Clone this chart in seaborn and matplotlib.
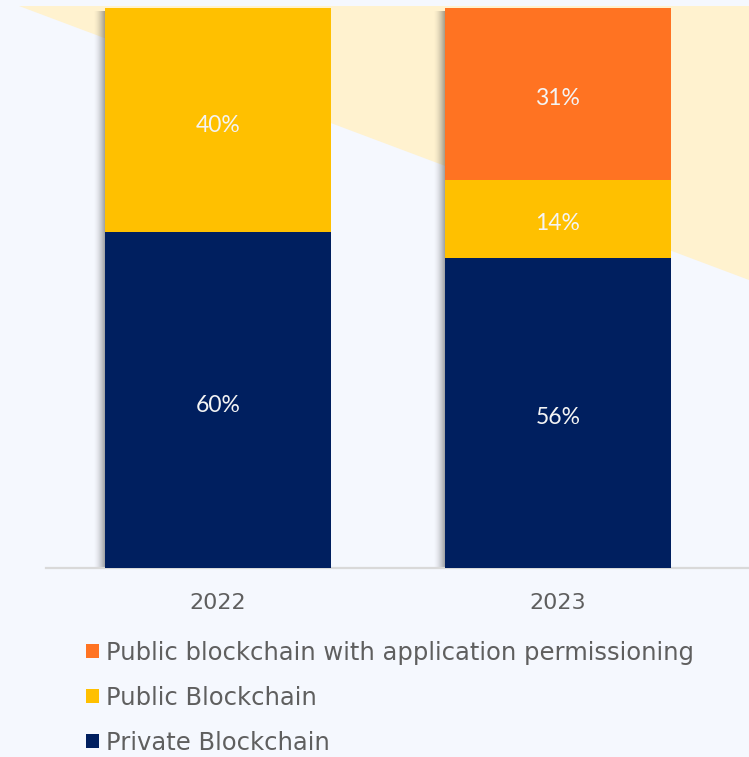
import numpy as np
import pandas as pd
import matplotlib
matplotlib.use("Agg")
import matplotlib.pyplot as plt
import seaborn as sns
from matplotlib.patches import Polygon, Patch, Rectangle
from matplotlib.transforms import offset_copy

# Survey shares by year (percent)
years = ["2022", "2023"]
private_chain = [60, 56]
public_chain = [40, 14]
public_permissioned = [0, 31]
series_labels = [
    "Public blockchain with application permissioning",
    "Public Blockchain",
    "Private Blockchain",
]

C_PRIVATE = "#001F5F"
C_PUBLIC = "#FFC000"
C_PERM = "#FF7322"
BG = "#F5F8FE"
BAND = "#FFF2CF"
TEXT_GRAY = "#5F5F5F"

sns.set_theme(style="white")
plt.rcParams["font.family"] = ["DejaVu Sans"]

W, H = 749, 757
fig = plt.figure(figsize=(W / 100, H / 100), dpi=100, facecolor=BG)

# pale diagonal band behind the plot
band = Polygon([(19 / W, 1 - 6 / H), (1.0, 1 - 6 / H), (1.0, 1 - 280 / H)],
               closed=True, transform=fig.transFigure, facecolor=BAND,
               edgecolor="none", zorder=0)
fig.patches.append(band)

ax = fig.add_axes([46 / W, (H - 568) / H, (W - 46) / W, 560 / H])
ax.set_zorder(2)
ax.set_facecolor("none")

# 100% stacked shares
priv = np.array(private_chain, float)
pub = np.array(public_chain, float)
perm = np.array(public_permissioned, float)
tot = priv + pub + perm
s_priv = priv / tot * 100
s_pub = pub / tot * 100
s_perm = perm / tot * 100

df = pd.DataFrame({
    "year": years,
    "c1": s_priv,
    "c2": s_priv + s_pub,
    "c3": s_priv + s_pub + s_perm,
})

bw = 0.665
for col, colr in [("c3", C_PERM), ("c2", C_PUBLIC), ("c1", C_PRIVATE)]:
    sns.barplot(data=df, x="year", y=col, color=colr, saturation=1, width=bw,
                linewidth=0, edgecolor="none", ax=ax, zorder=3, errorbar=None)

# soft shadow along the left edge of each bar
px = 1 / 340
for i in range(len(years)):
    n = 11
    for k in range(n):
        a = 0.42 * (1 - k / n) ** 1.6
        ax.add_patch(Rectangle((i - bw / 2 - (k + 1) * px, 0), px, df["c3"][i] - 0.5,
                               facecolor="#333333", alpha=a, edgecolor="none",
                               zorder=2))

# value labels, centred in each segment
label_tf = offset_copy(ax.transData, fig=fig, x=0, y=-3, units="dots")
for i in range(len(years)):
    segs = [(0, s_priv[i], priv[i]),
            (s_priv[i], s_pub[i], pub[i]),
            (s_priv[i] + s_pub[i], s_perm[i], perm[i])]
    for base, h, v in segs:
        if v > 0:
            ax.text(i, base + h / 2, f"{v:.0f}%", ha="center",
                    va="center_baseline", color="#F4F4F4", fontsize=16.5,
                    family=["Lato", "DejaVu Sans"], transform=label_tf,
                    zorder=5)

ax.set_xlim(-0.506, 1.562)
ax.set_ylim(0, 100)
ax.set_xlabel("")
ax.set_ylabel("")
ax.set_yticks([])
for s in ["top", "left", "right"]:
    ax.spines[s].set_visible(False)
ax.spines["bottom"].set_color("#D9D9D9")
ax.spines["bottom"].set_linewidth(1.6)
ax.tick_params(axis="x", length=0, pad=18, labelsize=16, labelcolor=TEXT_GRAY)

handles = [Patch(facecolor=C_PERM, edgecolor="none"),
           Patch(facecolor=C_PUBLIC, edgecolor="none"),
           Patch(facecolor=C_PRIVATE, edgecolor="none")]
fig.legend(handles, series_labels, loc="upper left",
           bbox_to_anchor=(86 / W, 1 - 641 / H), frameon=False,
           fontsize=17.5, labelcolor=TEXT_GRAY, handlelength=0.52,
           handleheight=0.52, handletextpad=0.3, labelspacing=0.86,
           borderaxespad=0, borderpad=0)

fig.savefig("out.png", dpi=100, facecolor=BG)
